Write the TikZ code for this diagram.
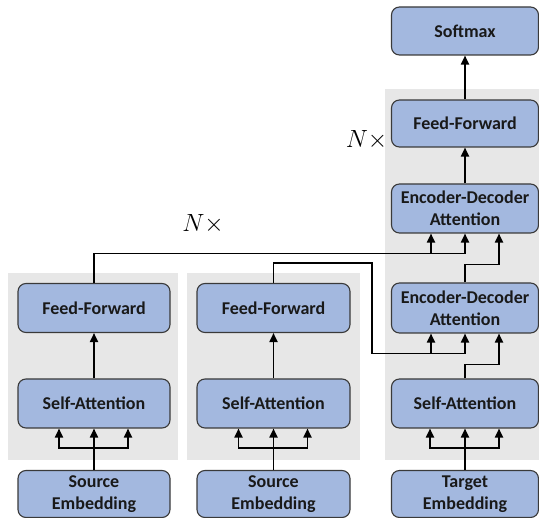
\documentclass[tikz,border=0pt]{standalone}
\usepackage{fontspec}
\setsansfont{Carlito}
\usetikzlibrary{arrows.meta,calc}
\definecolor{boxblue}{HTML}{A3B8DF}
\definecolor{boxline}{HTML}{3A3A3A}
\definecolor{panel}{HTML}{E7E7E7}
\begin{document}
\begin{tikzpicture}[x=1pt,y=-1pt,
  blk/.style={draw=boxline, fill=boxblue, line width=1.1pt, rounded corners=8pt,
    minimum height=49pt, inner sep=0pt, align=center, text=black!90,
    font=\sffamily\bfseries\fontsize{18}{22}\selectfont},
  encblk/.style={blk, minimum width=152pt},
  decblk/.style={blk, minimum width=147pt},
  conn/.style={line width=1.8pt, black},
  arrow/.style={conn, -{Triangle[length=9pt,width=8pt]}},
  times/.style={font=\fontsize{23}{27}\selectfont, inner sep=0pt}]
\useasboundingbox (0,0) rectangle (539,518);

% shaded layer panels
\fill[panel] (8,273) rectangle (178,460);
\fill[panel] (187,273) rectangle (360,460);
\fill[panel] (385,89) rectangle (539,460);

% first encoder layer
\node[encblk, minimum height=47pt] (emb1) at (94,494) {Source\\Embedding};
\node[encblk] (sa1) at (94,403.5) {Self-Attention};
\node[encblk] (ff1) at (94,308) {Feed-Forward};

% second encoder layer
\node[encblk, minimum width=153pt, minimum height=47pt] (emb2) at (273.5,494) {Source\\Embedding};
\node[encblk, minimum width=153pt] (sa2) at (273.5,403.5) {Self-Attention};
\node[encblk, minimum width=153pt] (ff2) at (273.5,308) {Feed-Forward};

% decoder
\node[decblk, minimum height=47pt] (emb3) at (465,494) {Target\\Embedding};
\node[decblk] (sa3) at (465,403.5) {Self-Attention};
\node[decblk, minimum height=50pt] (ed1) at (465,308) {Encoder-Decoder\\Attention};
\node[decblk] (ed2) at (465,208.5) {Encoder-Decoder\\Attention};
\node[decblk, minimum height=47pt] (ff3) at (465,123.5) {Feed-Forward};
\node[decblk, minimum height=48pt] (sm) at (465,31) {Softmax};

% repetition marks
\node[times] (rep1) at (366.5,140) {$N\times$};
\node[times] (rep2) at (203,224) {$N\times$};

% embeddings fan out into self-attention
\foreach \e/\s in {emb1/sa1, emb2/sa2, emb3/sa3} {
  \draw[conn] (\e.north) -- ++(0,-22) coordinate (j\e);
  \draw[arrow] (j\e) -- (\s.south);
  \draw[arrow] (j\e) -| ($(\s.south)+(-35,0)$);
  \draw[arrow] (j\e) -| ($(\s.south)+(34,0)$);
}

% self-attention to feed-forward in the encoders
\draw[arrow] (sa1.north) -- (ff1.south);
\draw[arrow] (sa2.north) -- (ff2.south);

% encoder outputs feeding the decoder
\coordinate (top2) at ($(ed2.south)+(0,20)$);
\draw[conn] (ff1.north) |- (top2);
\draw[arrow] (top2) -- (ed2.south);
\draw[arrow] ($(top2)+(-34,0)$) -- ($(ed2.south)+(-34,0)$);

\coordinate (low1) at ($(ed1.south)+(0,20)$);
\coordinate (bend) at ($(ed1.south)+(-93,20)$);
\draw[conn] (ff2.north) -- ++(0,-20) coordinate (up2) -- (up2 -| bend) -- (bend) -- (low1);
\draw[arrow] (low1) -- (ed1.south);
\draw[arrow] ($(low1)+(-34,0)$) -- ($(ed1.south)+(-34,0)$);

% decoder residual paths
\draw[arrow] (sa3.north) -- ++(0,-14) -| ($(ed1.south)+(34,0)$);
\draw[arrow] (ed1.north) -- ++(0,-18) -| ($(ed2.south)+(34,0)$);
\draw[arrow] (ed2.north) -- (ff3.south);
\draw[arrow] (ff3.north) -- (sm.south);
\end{tikzpicture}
\end{document}
